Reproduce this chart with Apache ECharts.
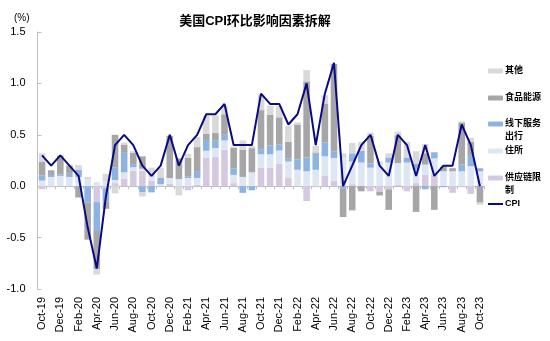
<!DOCTYPE html>
<html>
<head>
<meta charset="utf-8">
<script src="https://cdn.jsdelivr.net/npm/echarts@6/dist/echarts.min.js"></script>
<style>
  html, body { margin: 0; padding: 0; background: #fff; }
  #chart { width: 550px; height: 341px; }
</style>
</head>
<body>
<div id="chart"></div>
<script>
// Monthly categories, Oct-19 .. Oct-23
const months = [
  'Oct-19','Nov-19','Dec-19',
  'Jan-20','Feb-20','Mar-20','Apr-20','May-20','Jun-20','Jul-20','Aug-20','Sep-20','Oct-20','Nov-20','Dec-20',
  'Jan-21','Feb-21','Mar-21','Apr-21','May-21','Jun-21','Jul-21','Aug-21','Sep-21','Oct-21','Nov-21','Dec-21',
  'Jan-22','Feb-22','Mar-22','Apr-22','May-22','Jun-22','Jul-22','Aug-22','Sep-22','Oct-22','Nov-22','Dec-22',
  'Jan-23','Feb-23','Mar-23','Apr-23','May-23','Jun-23','Jul-23','Aug-23','Sep-23','Oct-23'
];

// Contributions to month-over-month CPI (percentage points)
const supplyChain = [
  -0.03,-0.01,0,
  0,0,0,-0.155,-0.02,0.03,0.07,0.15,0.15,0.05,0,0.025,
  0,-0.04,0.015,0.275,0.285,0.355,0.03,0,0,0.18,0.18,0.217,
  0.08,0,-0.145,-0.01,0.1,0.05,0,0.02,0,-0.05,-0.055,-0.03,
  0.015,-0.05,0.03,0.11,0.11,0,-0.065,-0.01,-0.075,0
];
const shelter = [
  0.055,0.09,0.1,
  0.09,0.09,0.07,0.04,0.05,0.03,0.065,0.035,0.02,0.04,0.02,0.055,
  0.07,0.08,0.065,0.07,0.087,0.09,0.08,0.09,0.135,0.13,0.13,0.13,
  0.16,0.16,0.145,0.16,0.19,0.225,0.27,0.22,0.23,0.18,0.22,0.23,
  0.21,0.23,0.13,0.1,0.16,0.145,0.145,0.145,0.195,0.145
];
const services = [
  0.05,0.02,0.013,
  0.03,0.07,-0.16,-0.28,-0.13,0.12,0.19,0.03,-0.06,-0.06,0.06,0,
  0,0.015,0.06,0.105,0.07,0.055,0.065,-0.065,-0.04,0.05,0.087,0.058,
  0.032,0.1,0.135,0.155,0.135,0.065,-0.02,0.08,0.115,0.04,0,0.05,
  0,0.05,0.06,-0.03,0.06,-0.01,0,0.065,0.1,0.03
];
const foodEnergy = [
  0.13,0.045,0.18,
  0.08,-0.11,-0.36,-0.37,-0.07,0.32,0.08,0.11,0.12,0,0,0.41,
  0.2,0.18,0.24,0.06,0.075,0.2,0.2,0.265,0.235,0.38,0.3,0.265,
  0.16,0.34,0.74,0.013,0.38,0.85,-0.28,-0.235,-0.05,0.27,-0.035,-0.2,
  0.27,0,-0.25,0.11,-0.23,0.045,0.03,0.41,0.135,-0.16
];
const others = [
  0.085,0,0.01,
  0.01,0.045,0.02,-0.055,0.07,-0.07,0.02,0.015,-0.04,0.09,0.1,0,
  -0.09,0.04,0.1,0.175,0.17,0.08,0.01,0.09,0.02,0.15,0.087,0.11,
  0.155,0.02,0.11,0.065,0.08,0,0.05,0.1,0.087,0.03,0.02,0.04,
  0.035,0.15,0.12,0.09,0,0.01,0,0.01,0.04,-0.02
];
const cpi = [
  0.3,0.2,0.3,
  0.2,0.1,-0.4,-0.8,-0.1,0.4,0.5,0.4,0.2,0.1,0.2,0.5,
  0.2,0.4,0.5,0.7,0.7,0.8,0.4,0.4,0.4,0.9,0.8,0.8,
  0.6,0.7,1.0,0.4,0.9,1.2,0.0,0.2,0.4,0.5,0.2,0.1,
  0.5,0.4,0.1,0.4,0.1,0.2,0.2,0.6,0.4,0.0
];

const yTicks = { min: -1.0, max: 1.5, step: 0.5 };

const FONT = "'Liberation Sans', 'Noto Sans CJK SC', sans-serif";
const CPI_COLOR = '#0a0a82';

const barSeries = [
  { name: '供应链限制', data: supplyChain, color: '#d5c9e2' },
  { name: '住所', data: shelter, color: '#dde7f4' },
  { name: '线下服务出行', data: services, color: '#8db3e2' },
  { name: '食品能源', data: foodEnergy, color: '#a6a6a6' },
  { name: '其他', data: others, color: '#d9d9d9' }
];

// Legend entries placed one by one down the right side.
// Two-line names get a leading blank line so the icon sits beside the first line.
const legendSpec = [
  { name: '其他', center: 71, label: '其他' },
  { name: '食品能源', center: 98, label: '食品能源' },
  { name: '线下服务出行', center: 124, label: '\n线下服务\n出行', lines: 3 },
  { name: '住所', center: 151, label: '住所' },
  { name: '供应链限制', center: 178, label: '\n供应链限\n制', lines: 3 },
  { name: 'CPI', center: 204, label: 'CPI' }
];
const LH = 13;
const legends = legendSpec.map(l => ({
  data: [l.name === 'CPI'
    ? { name: 'CPI', icon: 'rect', itemStyle: { color: CPI_COLOR } }
    : l.name],
  left: 488,
  top: l.center - (l.lines || 1) * LH / 2,
  padding: 0,
  itemWidth: 15,
  itemHeight: l.name === 'CPI' ? 2 : 5,
  itemGap: 0,
  selectedMode: false,
  formatter: () => l.label,
  textStyle: { fontSize: 9, fontWeight: 'bold', color: '#000', fontFamily: FONT, lineHeight: LH, padding: [0, 0, 0, -3] }
}));

const chart = echarts.init(document.getElementById('chart'), null, { renderer: 'canvas' });

chart.setOption({
  animation: false,
  backgroundColor: '#fff',
  title: {
    text: '美国CPI环比影响因素拆解',
    left: 250,
    textAlign: 'center',
    top: 10,
    textStyle: { fontSize: 13, fontWeight: 'bold', color: '#000', fontFamily: FONT }
  },
  legend: legends,
  grid: { left: 37.5, right: 65.5, top: 32, bottom: 52, containLabel: false },
  xAxis: [
    {
      type: 'category',
      data: months,
      position: 'bottom',
      axisLine: { show: false, onZero: false },
      axisTick: { show: false },
      axisLabel: {
        interval: 1,
        rotate: 90,
        margin: 8,
        fontSize: 11,
        color: '#000',
        fontFamily: FONT
      }
    },
    {
      type: 'category',
      data: months,
      position: 'bottom',
      axisLine: { show: true, onZero: true, lineStyle: { color: '#bfbfbf', width: 1 } },
      axisTick: { show: true, interval: 0, length: 3, lineStyle: { color: '#bfbfbf' } },
      axisLabel: { show: false }
    }
  ],
  yAxis: {
    type: 'value',
    min: yTicks.min,
    max: yTicks.max,
    interval: yTicks.step,
    name: '(%)',
    nameLocation: 'end',
    nameGap: 9,
    nameTextStyle: { fontSize: 10, color: '#000', align: 'right', padding: [0, 8, 0, 0], fontFamily: FONT },
    axisLine: { show: true, lineStyle: { color: '#bfbfbf' } },
    axisTick: { show: true, inside: true, length: 4, lineStyle: { color: '#bfbfbf' } },
    splitLine: { show: false },
    axisLabel: {
      margin: 12,
      fontSize: 11,
      color: '#000',
      fontFamily: FONT,
      formatter: v => v.toFixed(1)
    }
  },
  series: [
    ...barSeries.map(s => ({
      name: s.name,
      type: 'bar',
      stack: 'contrib',
      xAxisIndex: 0,
      barWidth: '72%',
      itemStyle: { color: s.color },
      emphasis: { disabled: true },
      data: s.data
    })),
    {
      name: 'CPI',
      type: 'line',
      xAxisIndex: 0,
      data: cpi,
      symbol: 'none',
      lineStyle: { color: CPI_COLOR, width: 2 },
      itemStyle: { color: CPI_COLOR },
      z: 5
    }
  ]
});
</script>
</body>
</html>
